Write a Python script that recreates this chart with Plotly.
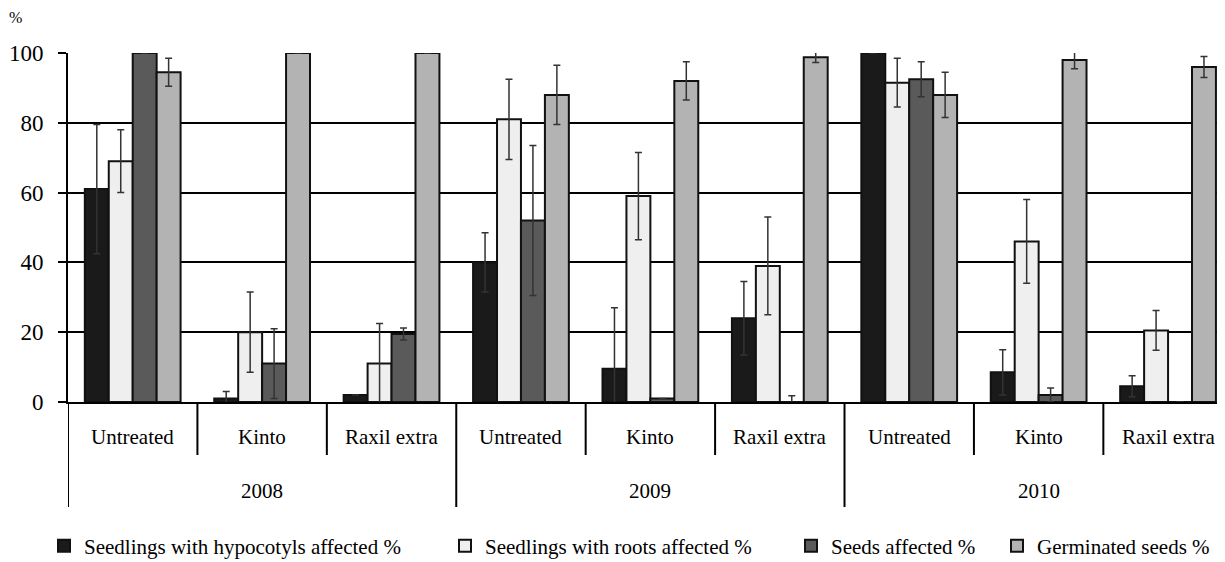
import plotly.graph_objects as go

years = ["2008", "2009", "2010"]
treatments = ["Untreated", "Kinto", "Raxil extra"]
categories = [f"{y} {t}" for y in years for t in treatments]

series_names = [
    "Seedlings with hypocotyls affected %",
    "Seedlings with roots affected %",
    "Seeds affected %",
    "Germinated seeds %",
]
hypocotyls = [61, 1, 2, 40, 9.5, 24, 100, 8.5, 4.5]
hypocotyls_err = [18.5, 2, 0, 8.5, 17.5, 10.5, 0, 6.5, 3]
roots = [69, 20, 11, 81, 59, 39, 91.5, 46, 20.5]
roots_err = [9, 11.5, 11.5, 11.5, 12.5, 14, 7, 12, 5.7]
seeds = [100, 11, 19.5, 52, 1, 0, 92.5, 2, 0]
seeds_err = [0, 10, 1.7, 21.5, 0, 1.8, 5, 2, 0]
germinated = [94.5, 100, 100, 88, 92, 98.8, 88, 98, 96]
germinated_err = [4, 0, 0, 8.5, 5.5, 1.5, 6.5, 2.5, 3]
y_ticks = [0, 20, 40, 60, 80, 100]

colors = ["#1a1a1a", "#efefef", "#5a5a5a", "#b3b3b3"]
values = [hypocotyls, roots, seeds, germinated]
errors = [hypocotyls_err, roots_err, seeds_err, germinated_err]
legend_ids = ["legend", "legend2", "legend3", "legend4"]

FONT = "Liberation Serif"

fig = go.Figure()
for name, vals, errs, col, lg in zip(series_names, values, errors, colors, legend_ids):
    fig.add_trace(go.Bar(
        x=categories, y=vals, name=name,
        marker=dict(color=col, line=dict(color="#111111", width=2)),
        error_y=dict(type="data", array=errs, visible=True,
                     color="#333333", thickness=1.5, width=3.5),
        legend=lg,
    ))

# page has an 8px body margin: figure coords = screen coords - 8
OFF = 8
W, H = 1225 - OFF, 562 - OFF
PL, PT, PB = 68, 53, 402          # plot area edges in screen px
L, T = PL - OFF, PT - OFF
B = H - (PB - OFF)
ph = PB - PT
pw = W - L

def py(screen_y):
    return (PB - screen_y) / ph

def px(screen_x):
    return (screen_x - PL) / pw

shapes = []
n = len(categories)
for i in range(n + 1):
    xpos = i - 0.5
    long = (i % 3 == 0)
    shapes.append(dict(type="line", xref="x", yref="paper", x0=xpos, x1=xpos,
                       y0=0, y1=py(507) if long else py(455),
                       line=dict(color="black", width=2)))

annotations = []
for i, c in enumerate(categories):
    annotations.append(dict(x=i, y=py(437), xref="x", yref="paper",
                            text=treatments[i % 3], showarrow=False,
                            font=dict(family=FONT, size=21, color="black"),
                            xanchor="center", yanchor="middle"))
for j, yr in enumerate(years):
    annotations.append(dict(x=3 * j + 1, y=py(491), xref="x", yref="paper",
                            text=yr, showarrow=False,
                            font=dict(family=FONT, size=21, color="black"),
                            xanchor="center", yanchor="middle"))
annotations.append(dict(x=px(15), y=py(18), xref="paper", yref="paper",
                        text="%", showarrow=False,
                        font=dict(family=FONT, size=16, color="black"),
                        xanchor="center", yanchor="middle"))

leg_font = dict(family=FONT, size=21, color="black")
leg_lefts = [44, 445, 791, 997]
leg_common = dict(orientation="h", yanchor="middle", xanchor="left",
                  font=leg_font, bgcolor="rgba(0,0,0,0)", borderwidth=0,
                  itemwidth=30)
layout_legends = {}
for lg, lx in zip(legend_ids, leg_lefts):
    layout_legends[lg] = dict(x=px(lx), y=py(546), **leg_common)

fig.update_layout(
    width=W, height=H,
    margin=dict(l=L, r=0, t=T, b=B, pad=0, autoexpand=False),
    plot_bgcolor="white", paper_bgcolor="white",
    barmode="group", bargap=0.26, bargroupgap=0,
    font=dict(family=FONT, color="black"),
    showlegend=True,
    shapes=shapes, annotations=annotations,
    xaxis=dict(type="category", range=[-0.5, 8.44], showticklabels=False,
               ticks="", showgrid=False, showline=True, linecolor="black",
               linewidth=2, zeroline=False, fixedrange=True),
    yaxis=dict(range=[0, 100], tickvals=y_ticks, showgrid=True,
               gridcolor="black", gridwidth=2, zeroline=False,
               showline=True, linecolor="black", linewidth=2,
               ticks="outside", ticklen=8, tickwidth=2, tickcolor="black",
               ticklabelstandoff=10,
               tickfont=dict(family=FONT, size=23, color="black")),
    **layout_legends,
)

fig.write_html("out.html")
